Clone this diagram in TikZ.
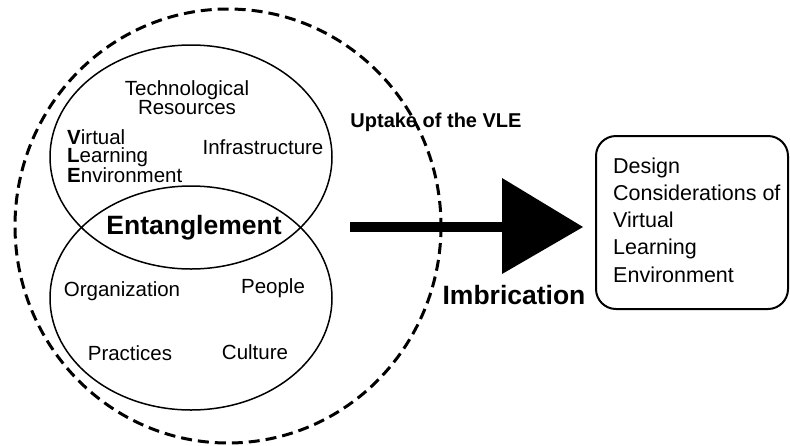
\documentclass[tikz,border=0pt]{standalone}
\usepackage{fontspec}
\setmainfont{Liberation Sans}
\begin{document}
\begin{tikzpicture}[x=1pt,y=-1pt,
  lbl/.style={inner sep=0pt,font=\fontsize{20.5pt}{17.5pt}\selectfont},
  biglbl/.style={inner sep=0pt,font=\fontsize{26.5pt}{30pt}\selectfont\bfseries},
  venn/.style={draw,line width=1.5pt},
]
\useasboundingbox (0,0) rectangle (790,445);
% outer dashed circle
\draw[line width=3pt,dash pattern=on 11pt off 6pt] (228,226) ellipse [x radius=213, y radius=217];
% venn ellipses
\draw[venn] (191,157) ellipse [x radius=141, y radius=112];
\draw[venn] (191,298) ellipse [x radius=141, y radius=112];
% texts
\node[lbl,align=center] (tech) at (187,97.5) {Technological\\Resources};
\node[lbl,align=left,anchor=west] (vle) at (67,156) {\textbf{V}irtual\\\textbf{L}earning\\\textbf{E}nvironment};
\node[lbl] (infra) at (263,147) {Infrastructure};
\node[biglbl] (ent) at (194,228) {Entanglement};
\node[lbl] (org) at (122,291) {Organization};
\node[lbl] (people) at (273,288) {People};
\node[lbl] (prac) at (130,353) {Practices};
\node[lbl] (cult) at (255,352) {Culture};
\node[inner sep=0pt,font=\fontsize{20pt}{22pt}\selectfont\bfseries] (uptake) at (436,122) {Uptake of the VLE};
\node[biglbl] (imbr) at (514,295) {Imbrication};
% target box
\node[draw,line width=2pt,rounded corners=20pt,minimum width=192pt,minimum height=173pt,inner sep=0pt] (dcv) at (692,222.5) {};
\node[inner sep=0pt,align=left,anchor=west,
      font=\fontsize{21.5pt}{27.2pt}\selectfont] (dcvtext) at (613,220)
  {Design\\Considerations of\\Virtual\\Learning\\Environment};
% arrow
\coordinate (astart) at (350,227);
\coordinate (abase) at (502,227);
\coordinate (atip) at (583,227);
\draw[line width=10pt] (astart) -- (abase);
\fill (atip) -- (502,178) -- (502,274) -- cycle;
\end{tikzpicture}
\end{document}
